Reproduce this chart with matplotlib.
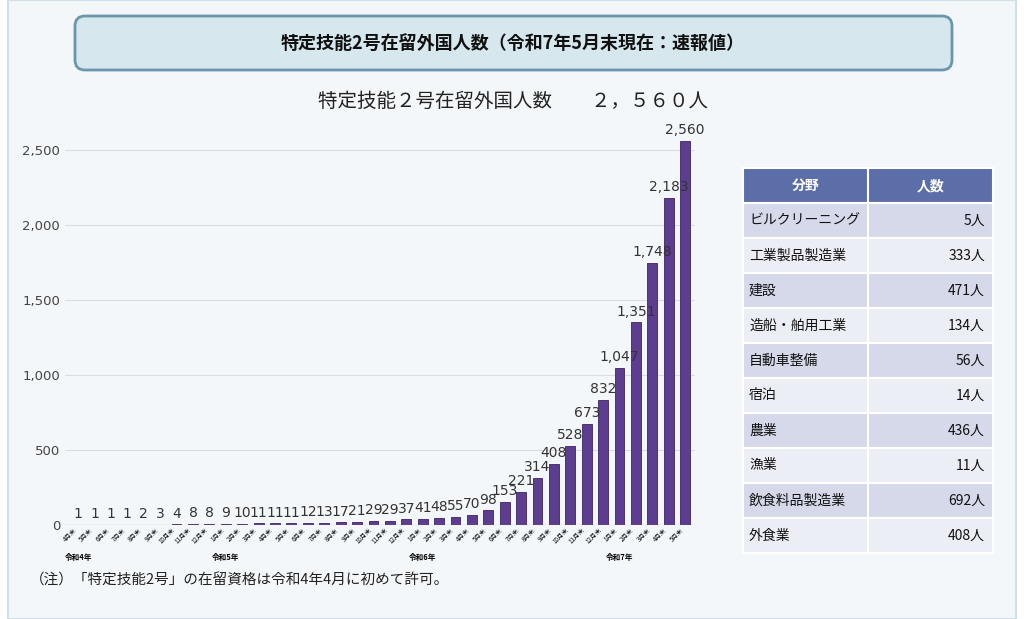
import matplotlib
matplotlib.use("Agg")
import matplotlib.pyplot as plt
from matplotlib.patches import FancyBboxPatch, Rectangle

plt.rcParams["font.family"] = "Noto Sans CJK JP"

values = [1,1,1,1,2,3,4,8,8,
          9,10,11,11,11,12,13,17,21,29,29,37,
          41,48,55,70,98,153,221,314,408,528,673,832,
          1047,1351,1748,2183,2560]
months = ["4月末","5月末","6月末","7月末","8月末","9月末","10月末","11月末","12月末"] + \
         [f"{m}月末" for m in range(1,13)]*2 + [f"{m}月末" for m in range(1,6)]
year_labels = {0:"令和4年", 9:"令和5年", 21:"令和6年", 33:"令和7年"}
fields = ["ビルクリーニング","工業製品製造業","建設","造船・舶用工業","自動車整備","宿泊","農業","漁業","飲食料品製造業","外食業"]
counts = [5,333,471,134,56,14,436,11,692,408]

W, H = 1024, 619
fig = plt.figure(figsize=(W/100, H/100), dpi=100)
fig.patch.set_facecolor("white")
bg = fig.add_axes([0,0,1,1]); bg.set_xlim(0,W); bg.set_ylim(H,0); bg.axis("off")
bg.add_patch(Rectangle((8,0),W-16,H,facecolor="#f3f7f9",edgecolor="#cfe0ea",lw=1.5))
bg.add_patch(FancyBboxPatch((75,16),877,54,boxstyle="round,pad=0,rounding_size=10",
             facecolor="#d7e7ee",edgecolor="#6a97ac",lw=2))
bg.text(513,43,"特定技能2号在留外国人数（令和7年5月末現在：速報値）",ha="center",va="center",
        fontsize=13,fontweight="bold",color="#111")
bg.text(513,101,"特定技能２号在留外国人数　　２，５６０人",ha="center",va="center",fontsize=14,color="#222")
bg.text(30,581,"（注）「特定技能2号」の在留資格は令和4年4月に初めて許可。",ha="left",va="center",fontsize=10.5,color="#222")

x0, x1, x2 = 743, 868, 993
bg.add_patch(Rectangle((x0,168),x2-x0,35,facecolor="#5b6ea8",edgecolor="white",lw=1.5))
bg.text((x0+x1)/2,186,"分野",ha="center",va="center",color="white",fontsize=10,fontweight="bold")
bg.text((x1+x2)/2,186,"人数",ha="center",va="center",color="white",fontsize=10,fontweight="bold")
bg.plot([x1,x1],[168,203],color="white",lw=1.5)
for i,(f,c) in enumerate(zip(fields,counts)):
    y = 203 + i*35
    col = "#d5d9ea" if i%2==0 else "#eceef6"
    bg.add_patch(Rectangle((x0,y),x2-x0,35,facecolor=col,edgecolor="white",lw=1.5))
    bg.plot([x1,x1],[y,y+35],color="white",lw=1.5)
    bg.text(x0+6,y+17.5,f,ha="left",va="center",fontsize=10,color="#111")
    bg.text(x2-8,y+17.5,f"{c}人",ha="right",va="center",fontsize=10,color="#111")

ax = fig.add_axes([65/W, 1-525/H, (695-65)/W, (525-135)/H])
ax.set_facecolor("none")
x = list(range(len(values)))
ax.bar(x, values, width=0.6, color="#5c3d8f", edgecolor="#3d2466", lw=0.6)
for xi,v in zip(x,values):
    ax.text(xi, v+25, f"{v:,}", ha="center", va="bottom", fontsize=10, color="#333",
            family="DejaVu Sans")
ax.set_ylim(0,2600); ax.set_xlim(-0.8,len(values)-0.4)
ax.set_yticks(range(0,2501,500))
ax.set_yticklabels([f"{t:,}" for t in range(0,2501,500)], family="DejaVu Sans", fontsize=9.5, color="#444")
ax.yaxis.grid(True,color="#d8dde2",lw=0.8); ax.set_axisbelow(True)
ax.tick_params(axis="y",length=0)
ax.set_xticks(x); ax.set_xticklabels(months, rotation=45, fontsize=4.5, ha="right")
ax.tick_params(axis="x",length=0,pad=1)
for s in ax.spines.values(): s.set_visible(False)
ax.axhline(0,color="#aaa",lw=0.8)
for i,l in year_labels.items():
    ax.text(i, -0.09, l, transform=ax.get_xaxis_transform(), ha="center", fontsize=5.5, fontweight="bold")
fig.savefig("out.png", dpi=100)
